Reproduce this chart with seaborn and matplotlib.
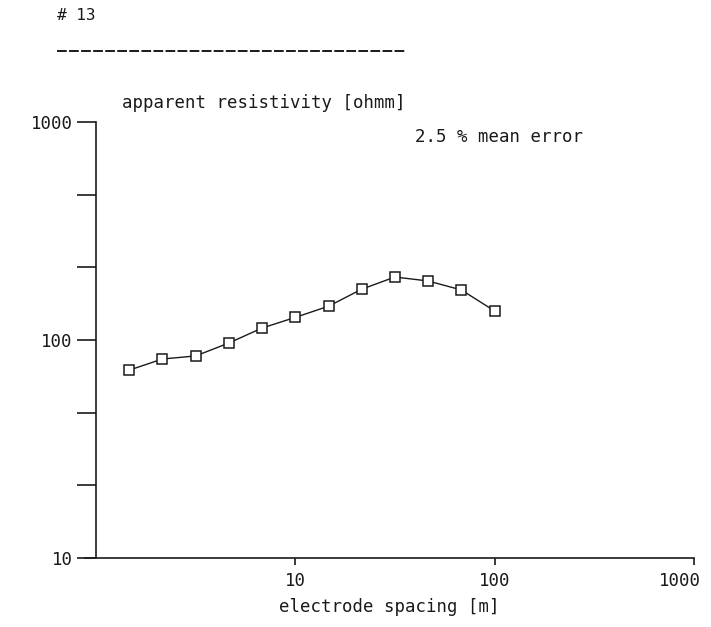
import numpy as np
import pandas as pd
import matplotlib
matplotlib.use("Agg")
import matplotlib.pyplot as plt
from matplotlib.lines import Line2D
from matplotlib.transforms import ScaledTranslation
import seaborn as sns

# data
spacing = [1.47, 2.15, 3.16, 4.64, 6.81, 10.0, 14.7, 21.5, 31.6, 46.4, 68.1, 100.0]
resistivity = [72.8, 81.8, 84.5, 96.9, 113.5, 127.0, 143.0, 171.0, 194.5, 186.5, 169.6, 135.8]
x_ticks = [10, 100, 1000]
x_tick_labels = ["10", "100", "1000"]
y_ticks = [10, 100, 1000]
y_tick_labels = ["10", "100", "1000"]
title_text = "# 13"
ylabel_text = "apparent resistivity [ohmm]"
note_text = "2.5 % mean error"
xlabel_text = "electrode spacing [m]"

sns.set_style("white")
plt.rcParams["font.family"] = ["DejaVu Sans Mono", "DejaVu Sans"]
ink = "#1a1a1a"
fs = 12.5

df = pd.DataFrame({"spacing": spacing, "resistivity": resistivity})

fig = plt.figure(figsize=(7.11, 6.27), dpi=100)
ax = fig.add_axes([85 / 711, (627 - 558) / 627, (694 - 85) / 711, (558 - 122) / 627])

sns.lineplot(data=df, x="spacing", y="resistivity", ax=ax, color=ink, lw=1.0,
             marker="s", markersize=7.5, markerfacecolor="white",
             markeredgecolor=ink, markeredgewidth=1.1)

ax.set_xscale("log")
ax.set_yscale("log")
ax.set_xlim(0.88, 1000)
ax.set_ylim(10, 1000)

for s in ["top", "right"]:
    ax.spines[s].set_visible(False)
ax.spines["left"].set_position(("data", 1))
ax.spines["left"].set_color(ink)
ax.spines["bottom"].set_color(ink)
ax.spines["left"].set_linewidth(1.2)
ax.spines["bottom"].set_linewidth(1.2)

ax.set_xticks(x_ticks)
ax.set_xticklabels(x_tick_labels)
ax.set_yticks(y_ticks)
ax.set_yticklabels(y_tick_labels)
y_minor = [10 ** (k + f) for k in (1, 2) for f in (1 / 3, 2 / 3)]
ax.set_yticks(y_minor, minor=True)
ax.set_xticks([], minor=True)
ax.yaxis.set_minor_formatter(plt.NullFormatter())
ax.tick_params(axis="y", which="both", direction="out", length=14, width=1.2,
               color=ink, labelsize=fs, labelcolor=ink, pad=3, left=True)
ax.tick_params(axis="x", which="major", direction="out", length=5, width=1.2,
               color=ink, labelsize=fs, labelcolor=ink, pad=5, bottom=True)
ax.set_xlabel(xlabel_text, fontsize=fs, color=ink, labelpad=6)
ax.set_ylabel("")
ax.grid(False)

# keep the last x tick label inside the figure, as in the reference
last = ax.get_xticklabels()[-1]
last.set_transform(last.get_transform() + ScaledTranslation(-14 / 100, 0, fig.dpi_scale_trans))

fig.text(122 / 711, 1 - 103 / 627, ylabel_text, fontsize=fs, color=ink,
         ha="left", va="center")
fig.text(415 / 711, 1 - 137 / 627, note_text, fontsize=fs, color=ink,
         ha="left", va="center")
fig.text(57 / 711, 1 - 16 / 627, title_text, fontsize=fs - 1, color=ink,
         ha="left", va="center")
fig.add_artist(Line2D([57 / 711, 405 / 711], [1 - 51 / 627, 1 - 51 / 627],
                      transform=fig.transFigure, color=ink, lw=1.4,
                      linestyle=(0, (5, 1.2))))

fig.savefig("out.png", dpi=100, facecolor="white")
